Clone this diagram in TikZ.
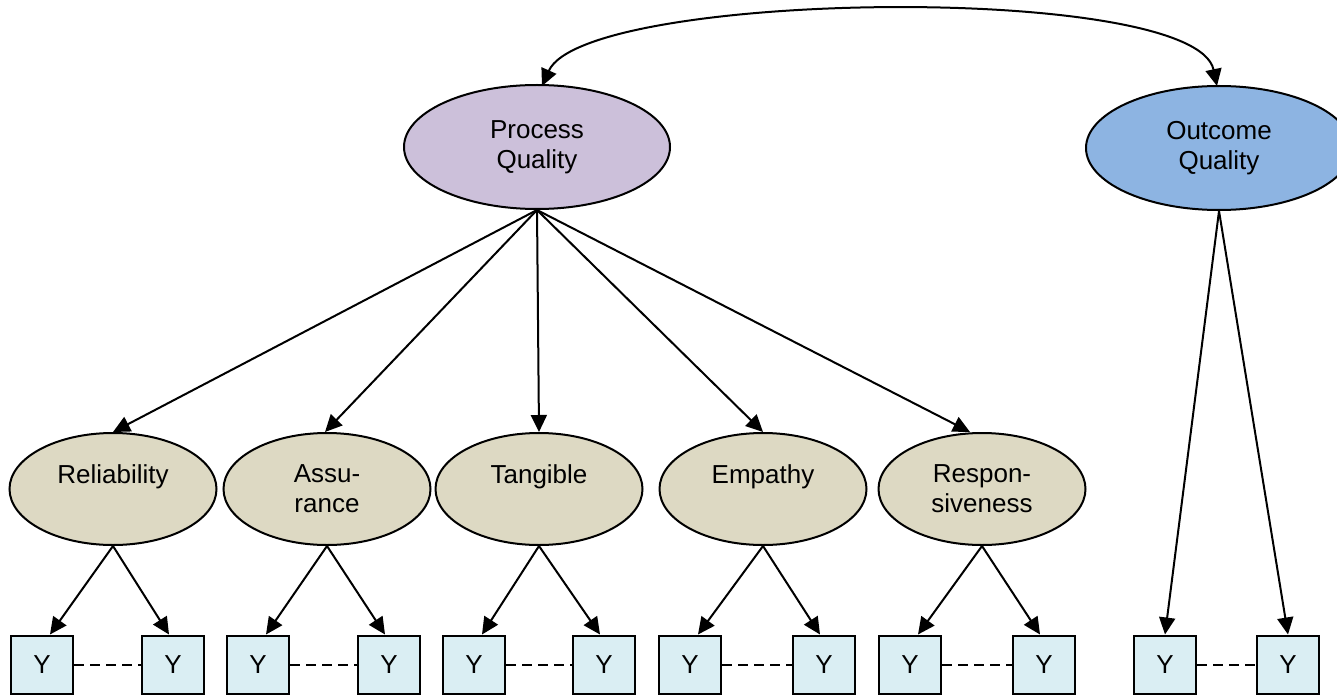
\documentclass[tikz,border=0pt]{standalone}
\usepackage{fontspec}
\setmainfont{Liberation Sans}
\usetikzlibrary{arrows.meta,shapes.geometric,calc}
\definecolor{procfill}{RGB}{204,192,218}
\definecolor{outfill}{RGB}{141,180,226}
\definecolor{dimfill}{RGB}{221,217,195}
\definecolor{itemfill}{RGB}{218,238,243}
\tikzset{
  base/.style={draw=black, line width=2pt, inner sep=0pt, align=center,
    font=\fontsize{26}{30}\selectfont},
  topellipse/.style={base, ellipse, minimum width=266pt, minimum height=124pt},
  dimellipse/.style={base, ellipse, fill=dimfill, minimum width=207pt, minimum height=112pt},
  itembox/.style={base, rectangle, fill=itemfill, minimum width=62pt, minimum height=58pt},
  tip/.style={Triangle[length=17pt,width=16pt]},
  link/.style={line width=2pt, -{Triangle[length=17pt,width=16pt]}},
  corr/.style={line width=2pt, {Triangle[length=17pt,width=16pt]}-{Triangle[length=17pt,width=16pt]}},
  pairline/.style={line width=2pt, dash pattern=on 10pt off 6pt}
}
\begin{document}
\begin{tikzpicture}[x=1pt,y=-1pt]
\useasboundingbox (0,0) rectangle (1337,695);
\begin{scope}
\clip (0,0) rectangle (1337,695);

% second-order factors
\node[topellipse, fill=procfill] (pq) at (537,147) {Process\\Quality};
\node[topellipse, fill=outfill] (oq) at (1219,148) {Outcome\\Quality};

% first-order dimensions
\node[dimellipse] (rel) at (113,489) {Reliability\\~};
\node[dimellipse] (ass) at (327,489) {Assu-\\rance};
\node[dimellipse] (tan) at (539,489) {Tangible\\~};
\node[dimellipse] (emp) at (763,489) {Empathy\\~};
\node[dimellipse] (res) at (982,489) {Respon-\\siveness};

% indicators
\foreach \n/\x in {r1/42, r2/173, a1/258, a2/389, t1/474, t2/604,
                   e1/690, e2/824, s1/910, s2/1044, o1/1165, o2/1288}
  \node[itembox] (\n) at (\x,664.5) {Y};

% correlation between the two quality factors
\draw[corr] (542,86) .. controls (585,-10) and (1195,-18) .. (1217,86);

% process quality loadings
\draw[link] (pq.south) -- (rel.north);
\draw[link] (pq.south) -- ($(ass.north)+(-2,0)$);
\draw[link] (pq.south) -- (tan.north);
\draw[link] (pq.south) -- (emp.north);
\draw[link] (pq.south) -- ($(res.north)+(-12,0)$);

% outcome quality loadings
\draw[link] (oq.south) -- (o1.north);
\draw[link] (oq.south) -- (o2.north);

% dimension loadings
\foreach \d/\a/\b in {rel/r1/r2, ass/a1/a2, tan/t1/t2, emp/e1/e2, res/s1/s2} {
  \draw[link] (\d.south) -- ($(\a.north)+(8,0)$);
  \draw[link] (\d.south) -- ($(\b.north)+(-4,0)$);
}

% dashed links between paired indicators
\foreach \a/\b in {r1/r2, a1/a2, t1/t2, e1/e2, s1/s2, o1/o2}
  \draw[pairline] (\a.east) -- (\b.west);
\end{scope}
\end{tikzpicture}
\end{document}
